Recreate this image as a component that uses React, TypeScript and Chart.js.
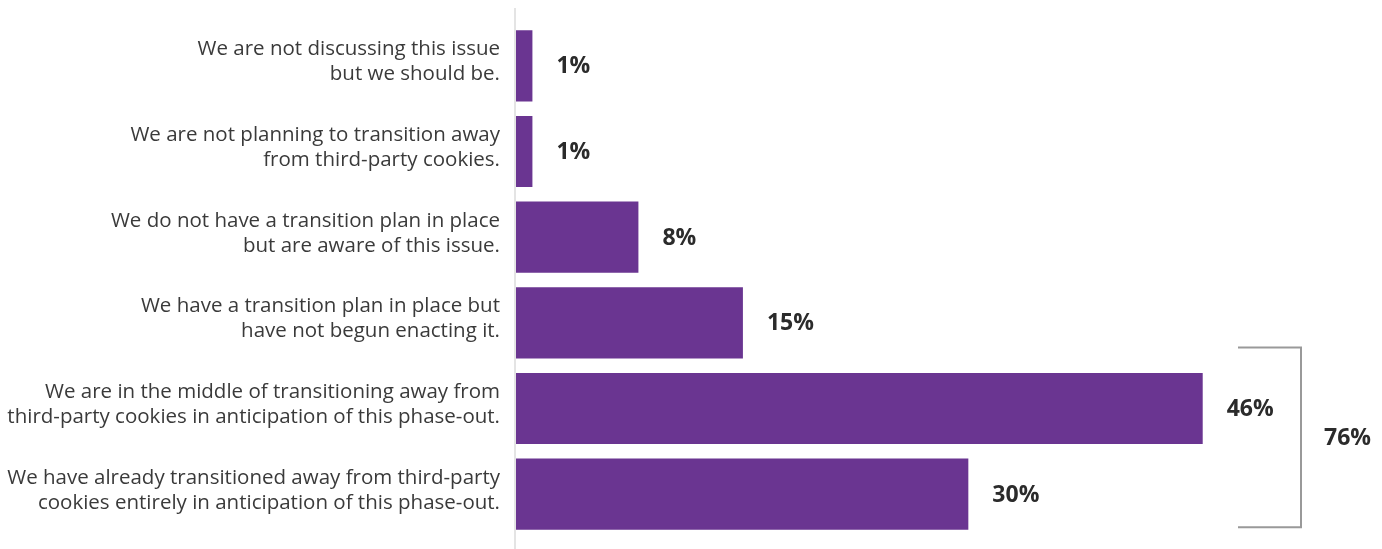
import React, { useEffect, useRef } from "react";
import { Chart, registerables } from "chart.js";

Chart.register(...registerables);

const categories: string[][] = [
  ["We are not discussing this issue", "but we should be."],
  ["We are not planning to transition away", "from third-party cookies."],
  ["We do not have a transition plan in place", "but are aware of this issue."],
  ["We have a transition plan in place but", "have not begun enacting it."],
  ["We are in the middle of transitioning away from", "third-party cookies in anticipation of this phase-out."],
  ["We have already transitioned away from third-party", "cookies entirely in anticipation of this phase-out."],
];
const values: number[] = [1.1, 1.1, 8.2, 15.2, 46, 30.3];
const valueLabels: string[] = ["1%", "1%", "8%", "15%", "46%", "30%"];
const bracketLabel = "76%";
const bracketFrom = 4;
const bracketTo = 5;

const FONT = "'Open Sans', 'DejaVu Sans', sans-serif";

export default function App() {
  const ref = useRef<HTMLCanvasElement | null>(null);
  useEffect(() => {
    document.body.style.margin = "0";
    const canvas = ref.current!;
    const overlay = {
      id: "overlay",
      beforeDraw(chart: any) {
        const ctx = chart.ctx;
        ctx.save();
        ctx.strokeStyle = "#e4e4e4";
        ctx.lineWidth = 2;
        ctx.beginPath();
        ctx.moveTo(chart.chartArea.left - 1, 8);
        ctx.lineTo(chart.chartArea.left - 1, chart.height);
        ctx.stroke();
        ctx.restore();
      },
      afterDatasetsDraw(chart: any) {
        const ctx = chart.ctx;
        const meta = chart.getDatasetMeta(0);
        ctx.save();
        ctx.fillStyle = "#2b2b2b";
        ctx.font = `bold 23px ${FONT}`;
        ctx.textBaseline = "middle";
        ctx.textAlign = "left";
        meta.data.forEach((bar: any, i: number) => {
          ctx.fillText(valueLabels[i], bar.x + 24, bar.y + 1);
        });
        // bracket
        const ys = chart.scales.y;
        const top = ys.getPixelForValue(bracketFrom) - 61;
        const bottom = ys.getPixelForValue(bracketTo) + 33;
        const xRight = chart.chartArea.right - 51;
        const xLeft = xRight - 63;
        ctx.strokeStyle = "#999999";
        ctx.lineWidth = 2;
        ctx.beginPath();
        ctx.moveTo(xLeft, top);
        ctx.lineTo(xRight, top);
        ctx.lineTo(xRight, bottom);
        ctx.lineTo(xLeft, bottom);
        ctx.stroke();
        ctx.fillText(bracketLabel, xRight + 23, (top + bottom) / 2 + 1);
        ctx.restore();
      },
    };
    const chart = new Chart(canvas, {
      type: "bar",
      data: {
        labels: categories,
        datasets: [
          {
            data: values,
            backgroundColor: "#6a3591",
            borderWidth: 0,
            barPercentage: 0.83,
            categoryPercentage: 1,
          },
        ],
      },
      options: {
        indexAxis: "y",
        animation: false,
        responsive: false,
        maintainAspectRatio: false,
        layout: { padding: { left: 0, right: 30, top: 23, bottom: 12 } },
        plugins: { legend: { display: false }, tooltip: { enabled: false } },
        scales: {
          x: { display: false, min: 0, max: 56 },
          y: {
            grid: { display: false, drawTicks: false },
            border: { display: false },
            ticks: {
              padding: 16,
              labelOffset: -4,
              color: "#3a3a3a",
              font: { family: FONT, size: 20.5, lineHeight: 1.22 },
            },
            afterFit(scale: any) {
              scale.width = 516;
              scale.paddingTop = 0;
              scale.paddingBottom = 0;
            },
          },
        },
      },
      plugins: [overlay],
    });
    return () => chart.destroy();
  }, []);
  return <canvas ref={ref} width={1382} height={549} style={{ display: "block" }} />;
}
